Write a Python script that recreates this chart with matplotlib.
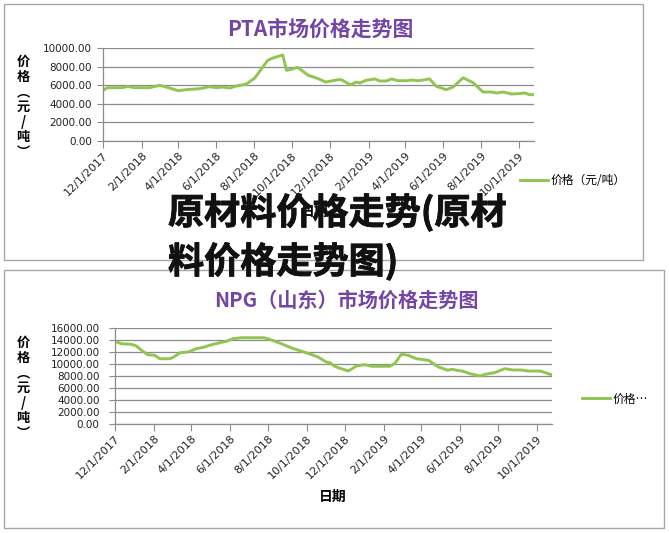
import pandas as pd
import matplotlib
matplotlib.use('Agg')
import matplotlib.pyplot as plt
from matplotlib.patches import Rectangle
import matplotlib.patheffects as pe

plt.rcParams['font.family'] = ['Noto Sans CJK SC', 'DejaVu Sans']

# PTA price data
pta_dates = ['2017-12-01', '2017-12-08', '2018-01-01', '2018-01-09', '2018-01-21',
             '2018-02-14', '2018-03-02', '2018-03-13', '2018-04-01', '2018-04-14',
             '2018-05-05', '2018-05-21', '2018-06-01', '2018-06-11', '2018-06-23',
             '2018-07-03', '2018-07-19', '2018-08-02', '2018-08-15', '2018-08-23',
             '2018-08-31', '2018-09-14', '2018-09-16', '2018-09-22', '2018-09-30',
             '2018-10-10', '2018-10-27', '2018-11-06', '2018-11-12', '2018-11-24',
             '2018-12-14', '2018-12-19', '2019-01-03', '2019-01-12', '2019-01-18',
             '2019-01-28', '2019-02-11', '2019-02-19', '2019-03-02', '2019-03-10',
             '2019-03-20', '2019-04-03', '2019-04-11', '2019-04-22', '2019-05-10',
             '2019-05-21', '2019-06-06', '2019-06-17', '2019-07-03', '2019-07-19',
             '2019-08-04', '2019-08-18', '2019-08-26', '2019-09-05', '2019-09-19',
             '2019-09-30', '2019-10-10', '2019-10-18', '2019-10-25']
pta_price = [5450, 5730, 5730, 5880, 5730, 5730, 5990, 5800, 5410, 5520,
             5620, 5840, 5730, 5800, 5700, 5910, 6100, 6770, 7960, 8680,
             8920, 9210, 9250, 7600, 7710, 7920, 7060, 6850, 6700, 6340,
             6590, 6590, 6050, 6340, 6240, 6520, 6670, 6450, 6450, 6670,
             6480, 6480, 6560, 6480, 6670, 5880, 5520, 5800, 6800, 6270,
             5270, 5270, 5160, 5270, 5050, 5090, 5160, 4980, 4980]

# NPG (Shandong) price data
npg_dates = ['2017-12-01', '2017-12-11', '2017-12-27', '2018-01-04', '2018-01-12',
             '2018-01-22', '2018-02-02', '2018-02-10', '2018-02-26', '2018-03-06',
             '2018-03-14', '2018-03-27', '2018-04-09', '2018-04-20', '2018-04-30',
             '2018-05-16', '2018-05-27', '2018-06-06', '2018-06-20', '2018-07-25',
             '2018-08-03', '2018-08-19', '2018-09-07', '2018-09-23', '2018-10-06',
             '2018-10-19', '2018-11-01', '2018-11-07', '2018-11-12', '2018-11-17',
             '2018-12-06', '2018-12-19', '2019-01-01', '2019-01-12', '2019-02-10',
             '2019-02-18', '2019-02-28', '2019-03-11', '2019-03-24', '2019-04-12',
             '2019-04-28', '2019-05-13', '2019-05-19', '2019-06-06', '2019-06-17',
             '2019-07-03', '2019-07-13', '2019-07-26', '2019-08-11', '2019-08-24',
             '2019-09-06', '2019-09-17', '2019-10-03', '2019-10-08', '2019-10-25']
npg_price = [13730, 13330, 13230, 12950, 12230, 11500, 11400, 10830, 10830, 11230,
             11830, 11950, 12500, 12730, 13070, 13500, 13730, 14170, 14330, 14330,
             14070, 13450, 12620, 12070, 11620, 11120, 10280, 10170, 9730, 9450,
             8780, 9620, 9830, 9570, 9570, 10070, 11570, 11400, 10830, 10570,
             9450, 8900, 9070, 8730, 8330, 7950, 8280, 8500, 9170, 8950,
             8950, 8780, 8780, 8730, 8120]

tick_labels = ['12/1/2017', '2/1/2018', '4/1/2018', '6/1/2018', '8/1/2018',
               '10/1/2018', '12/1/2018', '2/1/2019', '4/1/2019', '6/1/2019',
               '8/1/2019', '10/1/2019']

W, H = 669, 533
LINE_COLOR = '#8fc550'
TITLE_COLOR = '#7345a5'
GRID_COLOR = '#8c8c8c'


def fx(x):
    return x / W


def fy(y):
    return 1 - y / H


def draw_chart(fig, box, frame, dates, price, ymax, title, title_xy, title_size,
               legend_label, legend_xy, ylab_xy, xlab_xy, ypad):
    '''Draws one Excel style line chart with its frame, title and labels.'''
    left, top, right, bottom = box
    ax = fig.add_axes([fx(left), fy(bottom), fx(right - left), (bottom - top) / H])
    ax.plot(pd.to_datetime(dates), price, color=LINE_COLOR, lw=2.1,
            label=legend_label, solid_joinstyle='round')
    ax.set_ylim(0, ymax)
    ax.set_yticks(range(0, ymax + 1, 2000))
    ax.set_yticklabels(['%.2f' % v for v in range(0, ymax + 1, 2000)],
                       family='DejaVu Sans', fontsize=7.5, color='#222222')
    ax.set_xlim(pd.Timestamp(dates[0]), pd.Timestamp(dates[-1]))
    ax.set_xticks(pd.to_datetime(tick_labels, format='%m/%d/%Y'))
    ax.set_xticklabels(tick_labels, rotation=45, ha='right', rotation_mode='anchor',
                       family='DejaVu Sans', fontsize=8, color='#222222')
    ax.grid(axis='y', color=GRID_COLOR, lw=0.9)
    ax.set_axisbelow(True)
    for s in ['top', 'right']:
        ax.spines[s].set_visible(False)
    for s in ['left', 'bottom']:
        ax.spines[s].set_color(GRID_COLOR)
        ax.spines[s].set_linewidth(0.9)
    ax.tick_params(axis='y', length=4, color=GRID_COLOR, pad=ypad)
    ax.tick_params(axis='x', length=5, color=GRID_COLOR, pad=2)

    # frame round the chart
    fl, ft, fr, fb = frame
    fig.add_artist(Rectangle((fx(fl), fy(fb)), fx(fr - fl), (fb - ft) / H,
                             transform=fig.transFigure, fill=False,
                             ec='#a6a6a6', lw=1.0))
    fig.text(fx(title_xy[0]), fy(title_xy[1]), title, ha='center', va='center',
             fontsize=title_size, color=TITLE_COLOR, fontweight='bold')
    fig.text(fx(ylab_xy[0]), fy(ylab_xy[1]), '价\n格\n︵\n元\n/\n吨\n︶',
             ha='center', va='center', fontsize=9.5, fontweight='bold',
             linespacing=1.1)
    fig.text(fx(xlab_xy[0]), fy(xlab_xy[1]), '日期', ha='center', va='center',
             fontsize=10, fontweight='bold')
    ax.legend(loc='center left', bbox_to_anchor=(fx(legend_xy[0]), fy(legend_xy[1])),
              bbox_transform=fig.transFigure, frameon=False, fontsize=8.5,
              handlelength=2.4, handletextpad=0.2, borderpad=0, borderaxespad=0)
    return ax


fig = plt.figure(figsize=(W / 100, H / 100), dpi=100)

draw_chart(fig, (103, 48, 534, 141), (4, 4, 643, 260), pta_dates, pta_price, 10000,
           'PTA市场价格走势图', (320, 29), 15, '价格（元/吨）', (520, 181),
           (23, 107), (315, 212), 4)
draw_chart(fig, (115, 327.7, 552, 423.7), (4, 270, 664, 528), npg_dates, npg_price,
           16000, 'NPG（山东）市场价格走势图', (346, 300), 14.5, '价格…', (582, 399),
           (23, 388), (333, 497), 7)

# big overlay text, drawn over the first chart
heavy = [pe.withStroke(linewidth=0.6, foreground='#111111')]
fig.text(fx(168), fy(213), '原材料价格走势(原材', ha='left', va='center',
         fontsize=26, fontweight='bold', color='#111111', path_effects=heavy)
fig.text(fx(168), fy(262), '料价格走势图)', ha='left', va='center',
         fontsize=26, fontweight='bold', color='#111111', path_effects=heavy)

fig.savefig('out.png', dpi=100)
